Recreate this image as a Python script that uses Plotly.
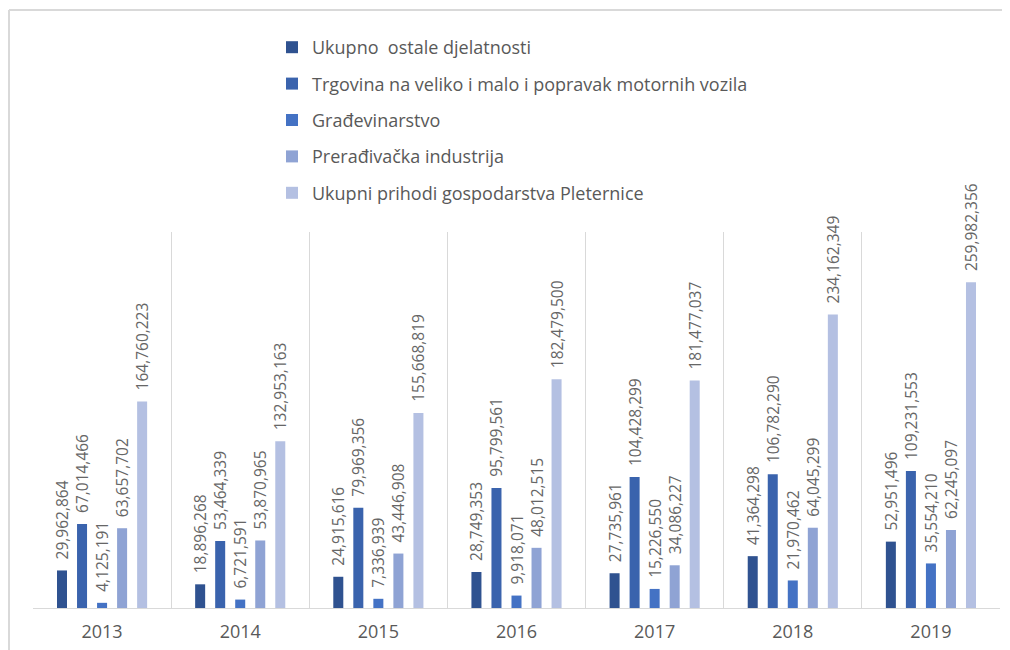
import plotly.graph_objects as go

years = ["2013", "2014", "2015", "2016", "2017", "2018", "2019"]
series_names = [
    "Ukupno  ostale djelatnosti",
    "Trgovina na veliko i malo i popravak motornih vozila",
    "Građevinarstvo",
    "Prerađivačka industrija",
    "Ukupni prihodi gospodarstva Pleternice",
]
ostale = [29962864, 18896268, 24915616, 28749353, 27735961, 41364298, 52951496]
trgovina = [67014466, 53464339, 79969356, 95799561, 104428299, 106782290, 109231553]
gradjevinarstvo = [4125191, 6721591, 7336939, 9918071, 15226550, 21970462, 35554210]
preradjivacka = [63657702, 53870965, 43446908, 48012515, 34086227, 64045299, 62245097]
ukupni = [164760223, 132953163, 155668819, 182479500, 181477037, 234162349, 259982356]

series_values = [ostale, trgovina, gradjevinarstvo, preradjivacka, ukupni]
colors = ["#2F5290", "#3A63AD", "#4472C4", "#8FA3D4", "#B4C0E2"]

FONT = "Open Sans"
GRAY = "#595959"

# The page body adds an 8px offset; figure is sized to fit the viewport.
W, H = 1002, 642
ML, MR, MT, MB = 25, 10, 224, 42
PW = W - ML - MR
PH = H - MT - MB

fig = go.Figure()
for i, (name, vals, col) in enumerate(zip(series_names, series_values, colors)):
    fig.add_trace(go.Bar(
        x=years, y=vals, name=name,
        marker=dict(color=col, line=dict(width=0)),
        text=[f"{v:,}" for v in vals],
        texttemplate="\u00a0\u00a0%{text}",
        textposition="outside",
        textangle=-90,
        constraintext="none",
        cliponaxis=False,
        textfont=dict(family=FONT, size=15.5, color="#666666"),
        legendgroup=f"g{i}",
    ))

fig.update_layout(
    width=W, height=H,
    margin=dict(l=ML, r=MR, t=MT, b=MB, autoexpand=False),
    paper_bgcolor="white", plot_bgcolor="white",
    barmode="group", bargap=0.275, bargroupgap=0.5,
    font=dict(family=FONT, color=GRAY),
    legend=dict(
        x=(264 - ML) / PW, y=(600 - 21) / PH, xanchor="left", yanchor="top",
        orientation="v", tracegroupgap=10,
        font=dict(family=FONT, size=18, color=GRAY),
        bgcolor="rgba(0,0,0,0)",
    ),
    showlegend=True,
)
fig.update_xaxes(
    type="category", tickson="boundaries", showgrid=True,
    gridcolor="#D9D9D9", gridwidth=1,
    showline=True, linecolor="#D9D9D9", linewidth=1,
    ticks="", tickfont=dict(family=FONT, size=18, color=GRAY),
    ticklabelstandoff=7,
)
fig.update_yaxes(visible=False, range=[0, 300000000], showgrid=False)

# outer frame lines (top and left) in paper space
ytop = (MT + PH - 2) / PH
xleft = (1 - ML) / PW
fig.add_shape(type="line", xref="paper", yref="paper",
              x0=xleft, x1=(W - ML) / PW, y0=ytop, y1=ytop,
              line=dict(color="#D9D9D9", width=2))
fig.add_shape(type="line", xref="paper", yref="paper",
              x0=xleft, x1=xleft, y0=-MB / PH, y1=ytop,
              line=dict(color="#D9D9D9", width=2))

fig.write_html("out.html")
